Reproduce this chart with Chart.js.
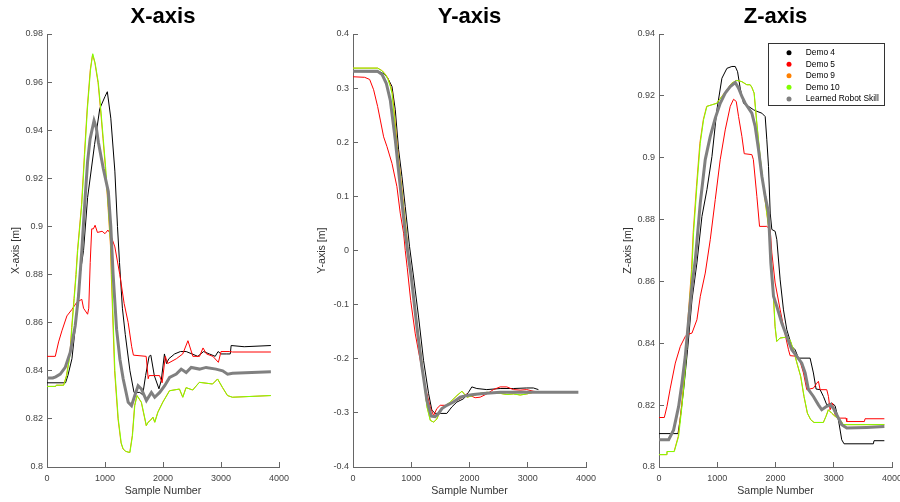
<!DOCTYPE html>
<html><head><meta charset="utf-8">
<script src="https://cdn.jsdelivr.net/npm/chart.js@4.4.0/dist/chart.umd.min.js"></script>
<style>
html,body{margin:0;padding:0;background:#fff;overflow:hidden;width:900px;height:502px;}
canvas{position:absolute;top:0;}
</style></head><body>
<canvas id="cx" width="300" height="502" style="left:0;width:300px;height:502px"></canvas>
<canvas id="cy" width="300" height="502" style="left:300px;width:300px;height:502px"></canvas>
<canvas id="cz" width="300" height="502" style="left:600px;width:300px;height:502px"></canvas>
<script>
// ---------- tick values / labels ----------
const sampleTicks = [0, 1000, 2000, 3000, 4000];
const sampleTickLabels = ['0', '1000', '2000', '3000', '4000'];
const xAxisTicks = [0.8, 0.82, 0.84, 0.86, 0.88, 0.9, 0.92, 0.94, 0.96, 0.98];
const xAxisTickLabels = ['0.8', '0.82', '0.84', '0.86', '0.88', '0.9', '0.92', '0.94', '0.96', '0.98'];
const yAxisTicks = [-0.4, -0.3, -0.2, -0.1, 0, 0.1, 0.2, 0.3, 0.4];
const yAxisTickLabels = ['-0.4', '-0.3', '-0.2', '-0.1', '0', '0.1', '0.2', '0.3', '0.4'];
const zAxisTicks = [0.8, 0.82, 0.84, 0.86, 0.88, 0.9, 0.92, 0.94];
const zAxisTickLabels = ['0.8', '0.82', '0.84', '0.86', '0.88', '0.9', '0.92', '0.94'];

const seriesNames = ['Demo 4', 'Demo 5', 'Demo 9', 'Demo 10', 'Learned Robot Skill'];

// ---------- X-axis series [sample, value] ----------
const xDemo4 = [[0,0.835],[320,0.835],[360,0.838],[430,0.845],[490,0.8585],[570,0.88],[630,0.89],[700,0.912],[820,0.934],[910,0.949],[1000,0.954],[1040,0.956],[1100,0.945],[1170,0.923],[1215,0.9],[1250,0.885],[1300,0.866],[1350,0.855],[1430,0.84],[1500,0.831],[1600,0.831],[1650,0.83],[1700,0.838],[1760,0.846],[1790,0.8465],[1850,0.838],[1930,0.8325],[1970,0.836],[2000,0.842],[2025,0.847],[2060,0.843],[2100,0.845],[2200,0.847],[2300,0.848],[2400,0.848],[2500,0.847],[2600,0.846],[2700,0.848],[2800,0.847],[2900,0.846],[2950,0.848],[3000,0.847],[3100,0.847],[3160,0.847],[3175,0.8505],[3400,0.85],[3860,0.8505]];
const xDemo5 = [[0,0.846],[143,0.846],[200,0.852],[257,0.8566],[343,0.8628],[430,0.8655],[515,0.8685],[600,0.8697],[630,0.866],[700,0.8635],[720,0.866],[745,0.885],[771,0.899],[800,0.899],[829,0.9005],[870,0.8975],[950,0.898],[1000,0.897],[1050,0.8985],[1090,0.897],[1170,0.8915],[1255,0.88],[1330,0.868],[1400,0.86],[1460,0.85],[1490,0.8465],[1710,0.846],[1745,0.8367],[1760,0.838],[1940,0.838],[1985,0.835],[2040,0.846],[2080,0.843],[2230,0.845],[2340,0.847],[2430,0.8525],[2515,0.846],[2630,0.846],[2690,0.8495],[2750,0.847],[2860,0.846],[2955,0.8435],[3000,0.848],[3150,0.848],[3200,0.8478],[3860,0.8478]];
const xDemo9 = [[0,0.8335],[150,0.8335],[160,0.834],[285,0.834],[335,0.838],[395,0.847],[425,0.858],[465,0.87],[498,0.88],[525,0.89],[595,0.909],[645,0.93],[692,0.9488],[745,0.965],[785,0.9715],[825,0.968],[880,0.9597],[925,0.948],[965,0.9364],[1005,0.925],[1052,0.908],[1094,0.892],[1108,0.88],[1165,0.84],[1224,0.82],[1276,0.81],[1310,0.8075],[1356,0.8065],[1426,0.806],[1470,0.813],[1510,0.8255],[1550,0.8297],[1625,0.8269],[1710,0.8172],[1741,0.8186],[1786,0.8195],[1825,0.8207],[1856,0.8186],[1910,0.8228],[1996,0.827],[2110,0.8317],[2282,0.8324],[2339,0.829],[2396,0.833],[2510,0.832],[2625,0.8352],[2853,0.8345],[2939,0.8366],[3025,0.833],[3110,0.8297],[3196,0.829],[3860,0.8297]];
const xDemo10 = [[0,0.8335],[150,0.8335],[160,0.834],[290,0.834],[340,0.838],[400,0.847],[430,0.858],[470,0.87],[503,0.88],[530,0.89],[600,0.909],[650,0.93],[697,0.9488],[750,0.965],[789,0.9718],[830,0.968],[886,0.9597],[930,0.948],[971,0.9364],[1010,0.925],[1057,0.908],[1100,0.892],[1114,0.88],[1171,0.84],[1229,0.82],[1280,0.81],[1314,0.8075],[1360,0.8065],[1430,0.806],[1474,0.813],[1514,0.8255],[1554,0.8297],[1629,0.8269],[1714,0.8172],[1745,0.8186],[1790,0.8195],[1829,0.8207],[1860,0.8186],[1914,0.8228],[2000,0.827],[2114,0.8317],[2286,0.8324],[2343,0.829],[2400,0.833],[2514,0.832],[2629,0.8352],[2857,0.8345],[2943,0.8366],[3029,0.833],[3114,0.8297],[3200,0.829],[3860,0.8297]];
const xLearned = [[0,0.837],[100,0.837],[150,0.8375],[229,0.8386],[314,0.8414],[400,0.8476],[486,0.8586],[543,0.871],[600,0.89],[657,0.9118],[700,0.927],[743,0.9364],[811,0.944],[850,0.941],[886,0.935],[971,0.924],[1057,0.9145],[1100,0.9],[1140,0.88],[1200,0.8572],[1257,0.8448],[1314,0.8366],[1400,0.8269],[1457,0.8255],[1514,0.8297],[1571,0.8338],[1629,0.8324],[1714,0.8276],[1800,0.831],[1857,0.829],[1943,0.831],[2029,0.8338],[2114,0.8372],[2229,0.8386],[2314,0.8407],[2400,0.8393],[2486,0.8414],[2629,0.8407],[2743,0.8414],[2914,0.8407],[3029,0.84],[3114,0.8386],[3200,0.839],[3860,0.8396]];

// ---------- Y-axis series ----------
const yDemo4 = [[0,0.3305],[460,0.33],[540,0.326],[600,0.318],[669,0.303],[726,0.26],[783,0.186],[840,0.137],[897,0.081],[971,0.007],[1040,-0.049],[1126,-0.123],[1211,-0.203],[1297,-0.264],[1354,-0.295],[1411,-0.301],[1497,-0.301],[1611,-0.301],[1697,-0.289],[1783,-0.28],[1897,-0.274],[1983,-0.262],[2040,-0.252],[2126,-0.255],[2297,-0.257],[2526,-0.255],[2754,-0.255],[2983,-0.254],[3097,-0.254],[3183,-0.257]];
const yDemo5 = [[0,0.321],[200,0.32],[286,0.316],[354,0.297],[423,0.266],[469,0.241],[526,0.21],[583,0.192],[669,0.161],[754,0.118],[811,0.069],[869,0.032],[897,0],[930,-0.031],[990,-0.092],[1069,-0.154],[1154,-0.203],[1240,-0.252],[1326,-0.289],[1383,-0.305],[1440,-0.292],[1497,-0.286],[1611,-0.286],[1726,-0.28],[1840,-0.274],[1954,-0.265],[2011,-0.268],[2097,-0.272],[2183,-0.271],[2297,-0.265],[2411,-0.257],[2526,-0.252],[2640,-0.252],[2754,-0.257],[2869,-0.258],[2983,-0.257],[3097,-0.26],[3211,-0.262]];
const yDemo9 = [[0,0.337],[425,0.337],[505,0.332],[568,0.324],[602,0.318],[648,0.303],[677,0.29],[718,0.245],[762,0.192],[836,0.118],[920,0.032],[943,0.005],[1016,-0.062],[1100,-0.135],[1186,-0.209],[1272,-0.289],[1329,-0.314],[1386,-0.317],[1443,-0.311],[1500,-0.295],[1557,-0.289],[1672,-0.28],[1786,-0.268],[1872,-0.26],[1957,-0.271],[2072,-0.268],[2186,-0.264],[2300,-0.262],[2529,-0.264],[2643,-0.266],[2757,-0.265],[2872,-0.267],[2986,-0.265],[3100,-0.262],[3386,-0.261],[3651,-0.261]];
const yDemo10 = [[0,0.337],[420,0.337],[497,0.332],[560,0.324],[594,0.318],[640,0.303],[669,0.29],[710,0.245],[754,0.192],[829,0.118],[914,0.032],[937,0.005],[1011,-0.062],[1097,-0.135],[1183,-0.209],[1269,-0.289],[1326,-0.314],[1383,-0.317],[1440,-0.311],[1497,-0.295],[1554,-0.289],[1669,-0.28],[1783,-0.268],[1869,-0.26],[1954,-0.271],[2069,-0.268],[2183,-0.264],[2297,-0.262],[2526,-0.264],[2640,-0.266],[2754,-0.265],[2869,-0.267],[2983,-0.265],[3097,-0.262],[3383,-0.261],[3651,-0.261]];
const yLearned = [[0,0.331],[420,0.331],[500,0.325],[571,0.309],[640,0.278],[726,0.204],[811,0.118],[897,0.032],[937,0],[1000,-0.049],[1097,-0.141],[1183,-0.215],[1269,-0.277],[1343,-0.306],[1411,-0.307],[1469,-0.301],[1526,-0.292],[1611,-0.286],[1726,-0.28],[1840,-0.271],[1954,-0.268],[2069,-0.266],[2240,-0.264],[2526,-0.262],[3097,-0.262],[3869,-0.262]];

// ---------- Z-axis series ----------
const zDemo4 = [[0,0.8108],[326,0.8108],[360,0.815],[423,0.825],[491,0.838],[566,0.854],[651,0.866],[737,0.881],[823,0.8897],[909,0.9004],[994,0.9155],[1080,0.9257],[1166,0.9289],[1251,0.9295],[1309,0.9295],[1349,0.9278],[1394,0.9225],[1451,0.9176],[1537,0.9166],[1623,0.9155],[1680,0.915],[1766,0.9144],[1823,0.9133],[1851,0.9058],[1880,0.8972],[1909,0.8821],[1937,0.8768],[1994,0.8762],[2023,0.8735],[2080,0.8605],[2137,0.8508],[2194,0.8444],[2280,0.839],[2337,0.8379],[2394,0.8352],[2594,0.8352],[2651,0.8304],[2697,0.8252],[2766,0.825],[2823,0.8228],[2880,0.8201],[2966,0.8207],[3023,0.8198],[3080,0.8153],[3137,0.8088],[3177,0.8075],[3680,0.8075],[3691,0.8085],[3869,0.8085]];
const zDemo5 = [[0,0.816],[91,0.816],[137,0.8196],[194,0.8255],[280,0.8336],[366,0.839],[451,0.8422],[480,0.8428],[566,0.8433],[651,0.8476],[709,0.8552],[794,0.8627],[880,0.8735],[966,0.8865],[1051,0.8994],[1137,0.909],[1223,0.9166],[1280,0.9189],[1326,0.9182],[1366,0.9133],[1423,0.9069],[1463,0.9013],[1594,0.901],[1620,0.8994],[1680,0.8875],[1726,0.8778],[1851,0.8778],[1909,0.8768],[1937,0.8692],[1994,0.8595],[2080,0.8508],[2166,0.8428],[2223,0.8379],[2251,0.836],[2366,0.8358],[2423,0.8341],[2480,0.8304],[2537,0.825],[2651,0.8255],[2709,0.8271],[2737,0.8277],[2766,0.825],[2880,0.825],[2909,0.8228],[2937,0.8185],[2977,0.8207],[3023,0.8169],[3080,0.8158],[3211,0.8158],[3223,0.8147],[3526,0.8147],[3537,0.8156],[3869,0.8156]];
const zDemo9 = [[0,0.804],[126,0.804],[137,0.805],[258,0.805],[330,0.8099],[386,0.8196],[443,0.8314],[500,0.8487],[558,0.8638],[586,0.8757],[643,0.8908],[701,0.9047],[760,0.9123],[818,0.9166],[905,0.9171],[990,0.9176],[1076,0.9198],[1162,0.9219],[1247,0.9241],[1333,0.925],[1420,0.9246],[1506,0.9236],[1564,0.9236],[1592,0.9228],[1632,0.9209],[1678,0.9112],[1734,0.9004],[1791,0.8908],[1848,0.8822],[1894,0.8757],[1917,0.8692],[1951,0.8595],[1991,0.8455],[2020,0.8406],[2077,0.8417],[2191,0.842],[2248,0.8411],[2306,0.8379],[2374,0.8331],[2431,0.8293],[2488,0.8228],[2546,0.8174],[2603,0.8153],[2660,0.8144],[2820,0.8144],[2866,0.8164],[2906,0.8185],[2963,0.8174],[3020,0.8164],[3106,0.8153],[3163,0.8137],[3869,0.8137]];
const zDemo10 = [[0,0.804],[126,0.804],[137,0.805],[263,0.805],[337,0.8099],[394,0.8196],[451,0.8314],[509,0.8487],[566,0.8638],[594,0.8757],[651,0.8908],[709,0.9047],[766,0.9123],[823,0.9166],[909,0.9171],[994,0.9176],[1080,0.9198],[1166,0.9219],[1251,0.9241],[1337,0.925],[1423,0.9246],[1509,0.9236],[1566,0.9236],[1594,0.9228],[1634,0.9209],[1680,0.9112],[1737,0.9004],[1794,0.8908],[1851,0.8822],[1897,0.8757],[1920,0.8692],[1954,0.8595],[1994,0.8455],[2023,0.8406],[2080,0.8417],[2194,0.842],[2251,0.8411],[2309,0.8379],[2377,0.8331],[2434,0.8293],[2491,0.8228],[2549,0.8174],[2606,0.8153],[2663,0.8144],[2823,0.8144],[2869,0.8164],[2909,0.8185],[2966,0.8174],[3023,0.8164],[3109,0.8153],[3166,0.8137],[3869,0.8137]];
const zLearned = [[0,0.8088],[166,0.8088],[251,0.812],[337,0.8196],[394,0.8271],[451,0.8358],[509,0.8476],[566,0.8584],[623,0.867],[709,0.8854],[794,0.8994],[880,0.9069],[966,0.9128],[1051,0.9176],[1137,0.9209],[1223,0.923],[1309,0.9243],[1366,0.9225],[1423,0.9198],[1480,0.9176],[1537,0.916],[1594,0.9144],[1651,0.9101],[1709,0.9026],[1766,0.894],[1823,0.8875],[1880,0.8822],[1920,0.8659],[1966,0.8552],[2023,0.8519],[2109,0.8465],[2194,0.8422],[2280,0.8379],[2366,0.8358],[2451,0.8336],[2509,0.8304],[2566,0.825],[2651,0.8228],[2737,0.8201],[2794,0.8185],[2880,0.8196],[2937,0.8201],[2994,0.819],[3051,0.8169],[3137,0.8137],[3223,0.8126],[3566,0.8128],[3869,0.8131]];

// ---------- styling ----------
const FONT = "'Liberation Sans', Arial, Helvetica, sans-serif";
const seriesColors = ['#000000', '#ff0000', '#ff8000', '#80ff00', '#808080'];
const seriesWidths = [1, 1, 1, 1, 3];
const seriesOrder = [5, 4, 3, 2, 1];

const boxLegend = {
  id: 'boxLegend',
  afterDraw(chart) {
    const ctx = chart.ctx, a = chart.chartArea;
    const w = 115.6, h = 61.7;
    const left = a.right - 8.7 - w, top = a.top + 9.3;
    ctx.save();
    ctx.fillStyle = '#ffffff';
    ctx.fillRect(left, top, w, h);
    ctx.strokeStyle = '#333333';
    ctx.lineWidth = 1;
    ctx.strokeRect(Math.round(left) + 0.5, Math.round(top) + 0.5, Math.round(w), Math.round(h));
    ctx.font = '8.4px ' + FONT;
    ctx.textBaseline = 'middle';
    ctx.textAlign = 'left';
    chart.data.datasets.forEach((ds, i) => {
      const y = top + 9.4 + i * 11.55;
      ctx.fillStyle = ds.borderColor;
      ctx.beginPath();
      ctx.arc(left + 21.3, y, 2.5, 0, Math.PI * 2);
      ctx.fill();
      ctx.fillStyle = '#000000';
      ctx.fillText(ds.label, left + 38, y);
    });
    ctx.restore();
  }
};

function makeChart(id, title, yLabel, series, yMin, yMax, yTicks, yLabels, yWidth, yTitlePad, padRight, withLegend) {
  const datasets = series.map((d, i) => ({
    label: seriesNames[i],
    data: d,
    borderColor: seriesColors[i],
    backgroundColor: seriesColors[i],
    borderWidth: seriesWidths[i],
    pointRadius: 0,
    tension: 0,
    fill: false,
    order: seriesOrder[i]
  }));
  return new Chart(document.getElementById(id), {
    type: 'line',
    data: { datasets },
    options: {
      responsive: false,
      animation: false,
      devicePixelRatio: 1,
      events: [],
      layout: { padding: { left: 0, top: 0, right: padRight, bottom: 0 } },
      plugins: {
        legend: { display: false },
        tooltip: { enabled: false },
        title: {
          display: true, text: title, fullSize: false, color: '#000',
          font: { family: FONT, size: 22, weight: 'bold', lineHeight: 1.2 },
          padding: { top: 4, bottom: 3.6 }
        }
      },
      scales: {
        x: {
          type: 'linear', min: 0, max: 4000,
          afterBuildTicks: s => { s.ticks = sampleTicks.map(v => ({ value: v })); },
          afterFit: s => { s.height = 35; s.paddingLeft = 0; s.paddingRight = 0; },
          grid: { drawOnChartArea: false, drawTicks: true, tickLength: -5, color: '#666', lineWidth: 1 },
          border: { display: true, color: '#666', width: 1 },
          ticks: { padding: 11, color: '#444', autoSkip: false, maxRotation: 0,
            font: { family: FONT, size: 9 },
            callback: (v, i) => sampleTickLabels[i] },
          title: { display: true, text: 'Sample Number', color: '#333',
            font: { family: FONT, size: 10.6 }, padding: { top: 0, bottom: 4.6 } }
        },
        y: {
          type: 'linear', min: yMin, max: yMax,
          afterBuildTicks: s => { s.ticks = yTicks.map(v => ({ value: v })); },
          afterFit: s => { s.width = yWidth; s.paddingTop = 0; s.paddingBottom = 0; },
          grid: { drawOnChartArea: false, drawTicks: true, tickLength: -5, color: '#666', lineWidth: 1 },
          border: { display: true, color: '#666', width: 1 },
          ticks: { padding: 9, color: '#444', autoSkip: false,
            font: { family: FONT, size: 9 },
            callback: (v, i) => yLabels[i] },
          title: { display: true, text: yLabel, color: '#333',
            font: { family: FONT, size: 10.6 }, padding: { top: yTitlePad, bottom: 0 } }
        }
      }
    },
    plugins: withLegend ? [boxLegend] : []
  });
}

makeChart('cx', 'X-axis', 'X-axis [m]', [xDemo4, xDemo5, xDemo9, xDemo10, xLearned],
  0.8, 0.98, xAxisTicks, xAxisTickLabels, 47, 9.9, 21, false);
makeChart('cy', 'Y-axis', 'Y-axis [m]', [yDemo4, yDemo5, yDemo9, yDemo10, yLearned],
  -0.4, 0.4, yAxisTicks, yAxisTickLabels, 53, 16.2, 14, false);
makeChart('cz', 'Z-axis', 'Z-axis [m]', [zDemo4, zDemo5, zDemo9, zDemo10, zLearned],
  0.8, 0.94, zAxisTicks, zAxisTickLabels, 59, 21.5, 8, true);
</script>
</body></html>
